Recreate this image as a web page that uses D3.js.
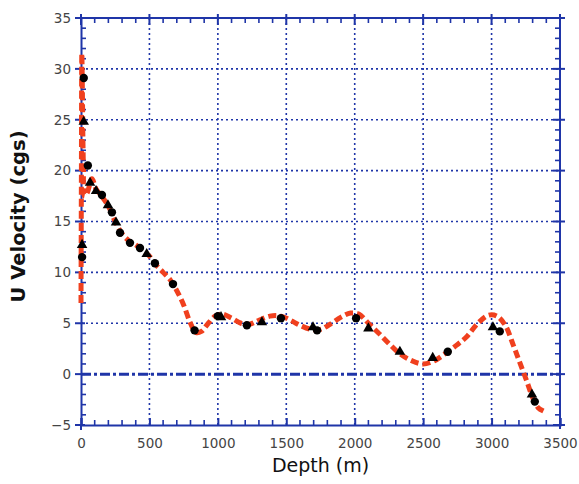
<!DOCTYPE html>
<html>
<head>
<meta charset="utf-8">
<script src="https://cdn.jsdelivr.net/npm/d3@7"></script>
<style>
  html, body { margin: 0; padding: 0; background: #fff; }
  svg { display: block; }
</style>
</head>
<body>
<script>
// Velocity profile: fitted curve (red dashed) and two sets of observations
const fitDepth = [0, 3, 6, 10, 14, 18, 25, 45, 80, 110, 150, 200, 250, 300, 350, 400, 450, 500, 550, 600, 650, 700, 750, 800, 840, 880, 930, 980, 1030, 1100, 1170, 1230, 1300, 1380, 1460, 1530, 1600, 1680, 1750, 1820, 1900, 1970, 2030, 2100, 2170, 2250, 2330, 2420, 2500, 2580, 2660, 2740, 2820, 2900, 2980, 3040, 3100, 3160, 3210, 3260, 3300, 3340, 3390];
const fitVel = [7, 20, 31.5, 28, 23, 20.3, 17.5, 17.8, 19.2, 18.2, 17.5, 16.5, 15, 13.8, 13.1, 12.7, 12.2, 11.6, 10.7, 10.0, 9.3, 8.2, 6.8, 5.0, 4.1, 4.2, 5.0, 5.7, 5.9, 5.5, 5.0, 4.9, 5.3, 5.7, 5.7, 5.3, 4.8, 4.4, 4.4, 4.9, 5.6, 6.0, 5.9, 5.0, 4.1, 3.0, 2.0, 1.3, 1.0, 1.3, 2.0, 2.8, 3.7, 5.0, 5.8, 5.7, 4.8, 2.8, 1.0, -0.8, -2.3, -3.3, -3.7];

const circleDepth = [20, 8, 50, 153, 226, 285, 358, 431, 540, 672, 830, 1000, 1212, 1461, 1725, 2010, 2680, 3060, 3316];
const circleVel = [29.1, 11.5, 20.5, 17.6, 15.9, 13.9, 12.9, 12.4, 10.9, 8.85, 4.3, 5.7, 4.8, 5.5, 4.3, 5.5, 2.2, 4.2, -2.7];

const triDepth = [20, 8, 66, 110, 197, 256, 480, 1023, 1322, 1695, 2100, 2330, 2570, 3010, 3295];
const triVel = [24.8, 12.7, 18.8, 18.0, 16.6, 14.9, 11.8, 5.6, 5.1, 4.6, 4.5, 2.2, 1.6, 4.6, -2.0];

const xTicks = [0, 500, 1000, 1500, 2000, 2500, 3000, 3500];
const yTicks = [-5, 0, 5, 10, 15, 20, 25, 30, 35];

const W = 579, H = 484;
const margin = { left: 81, right: 19, top: 18, bottom: 59 };
const blue = "#1f35a8";
const red = "#f0401e";

const svg = d3.select("body").append("svg").attr("width", W).attr("height", H);

const x = d3.scaleLinear().domain([0, 3500]).range([margin.left, W - margin.right]);
const y = d3.scaleLinear().domain([-5, 35]).range([H - margin.bottom, margin.top]);

// dotted grid
const grid = svg.append("g");
grid.selectAll("line.gx").data(xTicks.slice(1, -1)).join("line")
  .attr("x1", d => x(d)).attr("x2", d => x(d))
  .attr("y1", y(35)).attr("y2", y(-5))
  .attr("stroke", blue).attr("stroke-width", 1.6).attr("stroke-dasharray", "2 3");
grid.selectAll("line.gy").data(yTicks.slice(1, -1).filter(d => d !== 0)).join("line")
  .attr("y1", d => y(d)).attr("y2", d => y(d))
  .attr("x1", x(0)).attr("x2", x(3500))
  .attr("stroke", blue).attr("stroke-width", 1.6).attr("stroke-dasharray", "2 3");

// zero reference (dash-dot)
svg.append("line")
  .attr("x1", x(0)).attr("x2", x(3500)).attr("y1", y(0)).attr("y2", y(0))
  .attr("stroke", blue).attr("stroke-width", 3).attr("stroke-dasharray", "10 3 3 3");

// axes on all four sides with inward ticks
function minorTicks(step, lo, hi) { return d3.range(lo, hi + step / 2, step); }
const axes = svg.append("g");
const bottom = d3.axisBottom(x).tickValues(xTicks).tickSize(-7).tickPadding(12).tickFormat(d3.format("d"));
const left = d3.axisLeft(y).tickValues(yTicks).tickSizeInner(0).tickSizeOuter(0).tickPadding(10);

const gB = axes.append("g").attr("transform", `translate(0,${y(-5)})`).call(bottom);
const gL = axes.append("g").attr("transform", `translate(${x(0)},0)`).call(left);
[gB, gL].forEach(g => {
  g.select(".domain").attr("stroke", blue).attr("stroke-width", 2);
  g.selectAll(".tick line").attr("stroke", blue).attr("stroke-width", 2);
  g.selectAll(".tick text").attr("fill", "#444").style("font-family", "'DejaVu Sans', sans-serif").style("font-size", "13.5px");
});
gB.selectAll(".tick text").attr("dy", "0.8em");

// left axis major ticks extend slightly outside
axes.selectAll("line.ly").data(yTicks).join("line")
  .attr("x1", x(0) - 6).attr("x2", x(0) + 4).attr("y1", d => y(d)).attr("y2", d => y(d))
  .attr("stroke", blue).attr("stroke-width", 2);

// frame: top and right
axes.append("line").attr("x1", x(0) - 6).attr("x2", x(3500) + 5).attr("y1", y(35)).attr("y2", y(35))
  .attr("stroke", blue).attr("stroke-width", 2);
axes.append("line").attr("x1", x(3500)).attr("x2", x(3500)).attr("y1", y(35) - 4).attr("y2", y(-5) + 4)
  .attr("stroke", blue).attr("stroke-width", 2);
axes.append("line").attr("x1", x(3500)).attr("x2", x(3500) + 5).attr("y1", y(-5)).attr("y2", y(-5))
  .attr("stroke", blue).attr("stroke-width", 2);
axes.append("line").attr("x1", x(0)).attr("x2", x(0)).attr("y1", y(-5)).attr("y2", y(-5) + 5)
  .attr("stroke", blue).attr("stroke-width", 2);

// minor ticks (inward) on all sides
const xMinor = minorTicks(100, 0, 3500).filter(d => d % 500 !== 0);
const yMinor = minorTicks(1, -5, 35).filter(d => d % 5 !== 0);
axes.selectAll("line.mxb").data(xMinor).join("line")
  .attr("x1", d => x(d)).attr("x2", d => x(d)).attr("y1", y(-5)).attr("y2", y(-5) - 5)
  .attr("stroke", blue).attr("stroke-width", 1.6);
axes.selectAll("line.mxt").data(xMinor).join("line")
  .attr("x1", d => x(d)).attr("x2", d => x(d)).attr("y1", y(35)).attr("y2", y(35) + 5)
  .attr("stroke", blue).attr("stroke-width", 1.6);
axes.selectAll("line.mxt2").data(xTicks).join("line")
  .attr("x1", d => x(d)).attr("x2", d => x(d)).attr("y1", y(35) - 4).attr("y2", y(35) + 7)
  .attr("stroke", blue).attr("stroke-width", 2);
axes.selectAll("line.myl").data(yMinor).join("line")
  .attr("x1", x(0)).attr("x2", x(0) + 5).attr("y1", d => y(d)).attr("y2", d => y(d))
  .attr("stroke", blue).attr("stroke-width", 1.6);
axes.selectAll("line.myr").data(yMinor).join("line")
  .attr("x1", x(3500)).attr("x2", x(3500) - 5).attr("y1", d => y(d)).attr("y2", d => y(d))
  .attr("stroke", blue).attr("stroke-width", 1.6);
axes.selectAll("line.myr2").data(yTicks).join("line")
  .attr("x1", x(3500) - 7).attr("x2", x(3500) + 5).attr("y1", d => y(d)).attr("y2", d => y(d))
  .attr("stroke", blue).attr("stroke-width", 2);

// fitted curve
const fit = fitDepth.map((d, i) => [d, fitVel[i]]);
const line = d3.line().x(d => x(d[0])).y(d => y(d[1])).curve(d3.curveCatmullRom.alpha(0.5));
svg.append("path").datum(fit)
  .attr("d", line)
  .attr("fill", "none").attr("stroke", red).attr("stroke-width", 5)
  .attr("stroke-dasharray", "8 4");

// observations
const circles = circleDepth.map((d, i) => [d, circleVel[i]]);
const tris = triDepth.map((d, i) => [d, triVel[i]]);
svg.append("g").selectAll("circle").data(circles).join("circle")
  .attr("cx", d => x(d[0])).attr("cy", d => y(d[1])).attr("r", 4.2).attr("fill", "#000");
const triSym = d3.symbol().type(d3.symbolTriangle).size(48);
svg.append("g").selectAll("path").data(tris).join("path")
  .attr("d", triSym)
  .attr("transform", d => `translate(${x(d[0])},${y(d[1])})`).attr("fill", "#000");

// axis titles
svg.append("text").attr("x", x(1750)).attr("y", 472).attr("text-anchor", "middle")
  .style("font-family", "'DejaVu Sans', sans-serif").style("font-size", "19px").attr("fill", "#111")
  .text("Depth (m)");
svg.append("text").attr("transform", `translate(25,${y(15.5)}) rotate(-90)`).attr("text-anchor", "middle")
  .style("font-family", "'DejaVu Sans', sans-serif").style("font-size", "19.5px").style("font-weight", "bold").attr("fill", "#111")
  .text("U Velocity (cgs)");
</script>
</body>
</html>
